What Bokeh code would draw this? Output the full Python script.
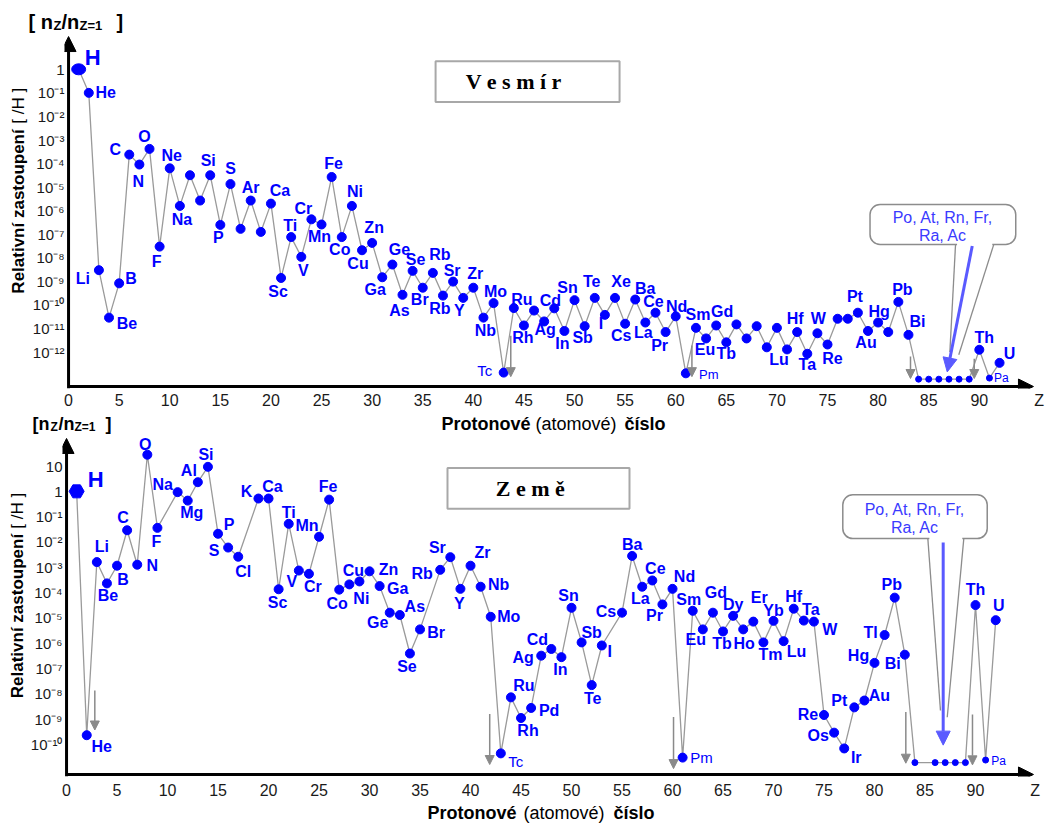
import math
from bokeh.plotting import figure
from bokeh.models import (ColumnDataSource, Range1d, FixedTicker,
                          CustomJSTickFormatter, Arrow, NormalHead, Label)
from bokeh.layouts import column, row
from bokeh.embed import file_html
from bokeh.resources import INLINE
from bokeh.core.properties import value, field
from bokeh.core.validation import silence
from bokeh.core.validation.warnings import MISSING_RENDERERS

silence(MISSING_RENDERERS, True)

# ------------------------------------------------------------------ data
vesmir_sym = ["H", "He", "Li", "Be", "B", "C", "N", "O", "F", "Ne",
              "Na", "Mg", "Al", "Si", "P", "S", "Cl", "Ar", "K", "Ca",
              "Sc", "Ti", "V", "Cr", "Mn", "Fe", "Co", "Ni", "Cu", "Zn",
              "Ga", "Ge", "As", "Se", "Br", "Kr", "Rb", "Sr", "Y", "Zr",
              "Nb", "Mo", "Tc", "Ru", "Rh", "Pd", "Ag", "Cd", "In", "Sn",
              "Sb", "Te", "I", "Xe", "Cs", "Ba", "La", "Ce", "Pr", "Nd",
              "Pm", "Sm", "Eu", "Gd", "Tb", "Dy", "Ho", "Er", "Tm", "Yb",
              "Lu", "Hf", "Ta", "W", "Re", "Os", "Ir", "Pt", "Au", "Hg",
              "Tl", "Pb", "Bi", "Po", "At", "Rn", "Fr", "Ra", "Ac", "Th",
              "Pa", "U"]
vesmir_z = list(range(1, 93))
vesmir_val = [1.0, 1.0e-1, 3.0e-9, 2.9e-11, 8.3e-10, 2.4e-4, 9.1e-5, 4.2e-4, 3.0e-8, 6.3e-5,
              1.6e-6, 3.2e-5, 2.7e-6, 3.2e-5, 2.5e-7, 1.35e-5, 1.7e-7, 2.7e-6, 1.26e-7, 2.0e-6,
              1.4e-9, 7.6e-8, 1.1e-8, 4.3e-7, 2.6e-7, 2.7e-5, 7.6e-8, 1.6e-6, 2.1e-8, 4.3e-8,
              1.5e-9, 5.2e-9, 2.7e-10, 2.8e-9, 5.4e-10, 2.3e-9, 2.5e-10, 9.8e-10, 2.0e-10, 5.4e-10,
              2.9e-11, 1.2e-10, 1.35e-13, 7.4e-11, 1.35e-11, 5.8e-11, 2.0e-11, 7.2e-11, 7.9e-12, 1.6e-10,
              1.26e-11, 2.0e-10, 3.8e-11, 2.0e-10, 1.6e-11, 1.7e-10, 1.8e-11, 4.7e-11, 7.1e-12, 3.3e-11,
              1.26e-13, 1.07e-11, 3.8e-12, 1.35e-11, 2.6e-12, 1.5e-11, 3.8e-12, 1.26e-11, 1.6e-12, 1.07e-11,
              1.3e-12, 7.1e-12, 8.5e-13, 6.3e-12, 2.1e-12, 2.6e-11, 2.6e-11, 4.7e-11, 7.9e-12, 1.8e-11,
              7.1e-12, 1.35e-10, 5.4e-12, 7.1e-14, 7.1e-14, 7.1e-14, 7.1e-14, 7.1e-14, 7.1e-14, 1.26e-12,
              7.9e-14, 3.5e-13]

zeme_sym = ["H", "He", "Li", "Be", "B", "C", "N", "O", "F",
            "Na", "Mg", "Al", "Si", "P", "S", "Cl",
            "K", "Ca", "Sc", "Ti", "V", "Cr", "Mn", "Fe", "Co", "Ni", "Cu", "Zn", "Ga", "Ge", "As", "Se", "Br",
            "Rb", "Sr", "Y", "Zr", "Nb", "Mo", "Tc", "Ru", "Rh", "Pd", "Ag", "Cd", "In", "Sn", "Sb", "Te", "I",
            "Cs", "Ba", "La", "Ce", "Pr", "Nd", "Pm", "Sm", "Eu", "Gd", "Tb", "Dy", "Ho", "Er", "Tm", "Yb",
            "Lu", "Hf", "Ta", "W", "Re", "Os", "Ir", "Pt", "Au", "Hg", "Tl", "Pb", "Bi", "Po",
            "Rn", "Fr", "Ra", "Ac", "Th", "Pa", "U"]
zeme_z = [1, 2, 3, 4, 5, 6, 7, 8, 9,
          11, 12, 13, 14, 15, 16, 17,
          19, 20, 21, 22, 23, 24, 25, 26, 27, 28, 29, 30, 31, 32, 33, 34, 35,
          37, 38, 39, 40, 41, 42, 43, 44, 45, 46, 47, 48, 49, 50, 51, 52, 53,
          55, 56, 57, 58, 59, 60, 61, 62, 63, 64, 65, 66, 67, 68, 69, 70,
          71, 72, 73, 74, 75, 76, 77, 78, 79, 80, 81, 82, 83, 84,
          86, 87, 88, 89, 90, 91, 92]
zeme_val = [1.0, 2.3e-10, 1.6e-3, 2.3e-4, 1.15e-3, 2.9e-2, 1.26e-3, 28.0, 3.6e-2,
            0.93, 0.43, 2.3, 9.3, 2.1e-2, 6.0e-3, 2.6e-3,
            0.52, 0.52, 1.35e-4, 5.2e-2, 7.4e-4, 5.5e-4, 1.6e-2, 0.47, 1.3e-4, 2.1e-4, 2.75e-4,
            6.9e-4, 1.8e-4, 1.6e-5, 1.3e-5, 3.9e-7, 3.5e-6,
            7.9e-4, 2.5e-3, 1.4e-4, 1.15e-3, 1.7e-4, 1.1e-5, 4.4e-11, 7.2e-9, 1.1e-9, 2.75e-9,
            3.2e-7, 5.9e-7, 2.8e-7, 2.5e-5, 1.07e-6, 2.2e-8, 8.1e-7,
            1.6e-5, 2.8e-3, 1.7e-4, 3.0e-4, 3.4e-5, 1.4e-4, 3.0e-11, 1.9e-5, 3.5e-6, 1.6e-5,
            2.9e-6, 1.2e-5, 3.5e-6, 7.1e-6, 1.07e-6, 7.6e-6,
            1.2e-6, 2.3e-5, 7.8e-6, 7.1e-6, 1.45e-9, 2.9e-10, 6.9e-11, 2.9e-9, 5.4e-9, 1.66e-7,
            2.1e-6, 6.3e-5, 3.5e-7, 1.9e-11,
            1.9e-11, 1.9e-11, 1.9e-11, 1.9e-11, 3.2e-5, 2.4e-11, 8.1e-6]

x_ticks = [0, 5, 10, 15, 20, 25, 30, 35, 40, 45, 50, 55, 60, 65, 70, 75, 80, 85, 90, 95.9]
x_axis_name = "Z"
vesmir_y_ticks = [1e-12, 1e-11, 1e-10, 1e-9, 1e-8, 1e-7, 1e-6, 1e-5, 1e-4, 1e-3, 1e-2, 1e-1, 1.0]
zeme_y_ticks = [1e-10, 1e-9, 1e-8, 1e-7, 1e-6, 1e-5, 1e-4, 1e-3, 1e-2, 1e-1, 1.0, 10.0]

# downward "upper limit" arrows (Z, from, to)
vesmir_arrow_z = [43.7, 61.6, 83.2, 89.5]
vesmir_arrow_from = [4.9e-12, 1.9e-12, 6.5e-13, 5.2e-13]
vesmir_arrow_to = [9.1e-14, 9.1e-14, 7.6e-14, 7.6e-14]
zeme_arrow_z = [2.8, 41.9, 60.1, 83.1, 89.7]
zeme_arrow_from = [1.35e-8, 1.6e-9, 1.2e-9, 1.9e-9, 1.5e-9]
zeme_arrow_to = [3.7e-10, 1.6e-11, 1.1e-11, 1.8e-11, 1.55e-11]

callout_lines = ["Po, At, Rn, Fr,", "Ra, Ac"]

# ------------------------------------------------------------------ label layout (pixels)
ves_off = {"He": (17, 0), "Li": (-16, 8), "Be": (18, 6), "B": (12, -5), "C": (-14, -5),
           "N": (-1, 17), "O": (-5, -12), "F": (-3, 15), "Ne": (2, -13), "Na": (2, 14),
           "Si": (-2, -15), "P": (-2, 13), "S": (0, -16), "Ar": (0, -13), "Ca": (9, -13),
           "Sc": (-3, 14), "Ti": (-1, -12), "V": (2, 14), "Cr": (-8, -11), "Mn": (-2, 12),
           "Fe": (2, -13), "Co": (-2, 12), "Ni": (3, -14), "Cu": (-4, 13), "Zn": (2, -15),
           "Ga": (-7, 12), "Ge": (7, -15), "As": (-3, 16), "Se": (3, -11), "Br": (-3, 12),
           "Kr": (7, -18), "Rb": (-3, 13), "Sr": (-1, -11), "Y": (-4, 13), "Zr": (2, -14),
           "Nb": (2, 13), "Mo": (2, -12), "Tc": (-19, -2), "Ru": (8, -9), "Rh": (-1, 12),
           "Ag": (1, 8), "Cd": (-4, -8), "In": (-2, 13), "Sn": (-7, -13), "Sb": (-2, 11),
           "Te": (-3, -16), "I": (-4, 9), "Xe": (6, -16), "Cs": (-4, 12), "Ba": (10, -11),
           "La": (-2, 10), "Ce": (-2, -11), "Pr": (-6, 13), "Nd": (1, -10), "Pm": (23, 1),
           "Sm": (2, -13), "Eu": (-1, 11), "Gd": (6, -14), "Tb": (0, 11), "Lu": (-8, 10),
           "Hf": (-2, -14), "Ta": (0, 11), "W": (1, -15), "Re": (5, 14), "Pt": (-3, -16),
           "Au": (-2, 12), "Hg": (1, -11), "Pb": (4, -12), "Bi": (9, -13), "Th": (5, -12),
           "Pa": (12, 0), "U": (10, -9)}
ves_unlabeled = {"Mg", "Al", "Cl", "K", "Pd", "Dy", "Ho", "Er", "Tm", "Yb", "Os", "Ir",
                 "Tl", "Po", "At", "Rn", "Fr", "Ra", "Ac"}
ves_rename = {"Kr": "Rb"}
ves_thin = {"Tc": "15px", "Pm": "13px", "Pa": "12px"}

zem_off = {"He": (15, 11), "Li": (5, -16), "Be": (1, 12), "B": (6, 14), "C": (-4, -13),
           "N": (15, 1), "O": (-2, -10), "F": (-1, 14), "Na": (-15, -8), "Mg": (4, 12),
           "Al": (-9, -12), "Si": (-2, -12), "P": (11, -9), "S": (-14, 3), "Cl": (5, 15),
           "K": (-12, -7), "Ca": (4, -12), "Sc": (-1, 13), "Ti": (0, -11), "V": (-7, 11),
           "Cr": (4, 13), "Mn": (-12, -11), "Fe": (-1, -13), "Co": (-2, 14), "Ni": (12, 14),
           "Cu": (-6, -11), "Zn": (19, -2), "Ga": (18, 2), "Ge": (-12, 10), "As": (15, -8),
           "Se": (-3, 13), "Br": (16, 3), "Rb": (-18, 4), "Sr": (-13, -10), "Y": (-1, 15),
           "Zr": (12, -13), "Nb": (18, -2), "Mo": (18, 0), "Tc": (15, 8), "Ru": (13, -12),
           "Rh": (7, 12), "Pd": (18, 3), "Ag": (-18, 2), "Cd": (-14, -9), "In": (-1, 12),
           "Sn": (-3, -12), "Sb": (10, -10), "Te": (1, 13), "I": (8, 6), "Cs": (-16, -1),
           "Ba": (0, -11), "La": (-2, 12), "Ce": (3, -12), "Pr": (-8, 11), "Nd": (12, -12),
           "Pm": (19, 0), "Sm": (-4, -11), "Eu": (-7, 10), "Gd": (3, -20), "Tb": (-1, 12),
           "Dy": (0, -11), "Ho": (1, 14), "Er": (6, -24), "Tm": (7, 12), "Yb": (0, -10),
           "Lu": (13, 10), "Hf": (0, -12), "Ta": (7, -11), "W": (16, 8), "Re": (-16, 0),
           "Os": (-16, 3), "Ir": (12, 9), "Pt": (-15, -7), "Au": (15, -5), "Hg": (-16, -7),
           "Tl": (-14, -3), "Pb": (-3, -13), "Bi": (-12, 9), "Th": (0, -16), "Pa": (13, 1),
           "U": (3, -15)}
zem_unlabeled = {"Po", "Rn", "Fr", "Ra", "Ac"}
zem_thin = {"Tc": "15px", "Pm": "15px", "Pa": "12px"}

small_dots = {"Po", "At", "Rn", "Fr", "Ra", "Ac", "Pa"}

BLUE = "#0000ff"
LBLUE = "#5a5aff"
GRAY = "#9a9a9a"
AGRAY = "#8a8a8a"
FONT = "Liberation Sans"
SERIF = "Liberation Serif"
PAGE_W = 1045

TICK_JS = """
const e = Math.round(Math.log10(tick));
if (e === 0) return "1";
if (e === 1) return "10";
const sup = {"-": "\\u207b", "0": "\\u2070", "1": "\\u00b9", "2": "\\u00b2", "3": "\\u00b3",
             "4": "\\u2074", "5": "\\u2075", "6": "\\u2076", "7": "\\u2077", "8": "\\u2078", "9": "\\u2079"};
let s = "";
for (const c of String(e)) s += sup[c];
return "10" + s;
"""
XTICK_JS = "return tick > 92 ? NAME : String(tick);".replace("NAME", '"' + x_axis_name + '"')


def make_fig(width, height, x_end, ylog_lo, ylog_hi, border_left, border_bottom, standoff, yticks):
    p = figure(width=width, height=height, x_range=Range1d(-0.4, x_end),
               y_range=Range1d(10 ** ylog_lo, 10 ** ylog_hi), y_axis_type="log",
               output_backend="svg", toolbar_location=None,
               min_border_left=border_left, min_border_right=0, min_border_top=0,
               min_border_bottom=border_bottom)
    p.grid.visible = False
    p.outline_line_color = None
    p.background_fill_color = "white"
    p.border_fill_color = "white"
    for ax in (p.xaxis[0], p.yaxis[0]):
        ax.axis_line_color = None
        ax.major_tick_line_color = None
        ax.minor_tick_line_color = None
        ax.major_tick_in = 0
        ax.major_tick_out = 0
        ax.minor_tick_in = 0
        ax.minor_tick_out = 0
        ax.major_label_text_font = FONT
        ax.major_label_text_color = "#1a1a1a"
    p.xaxis.major_label_text_font_size = "16px"
    p.yaxis.major_label_text_font_size = "15px"
    p.xaxis.ticker = FixedTicker(ticks=x_ticks)
    p.xaxis.formatter = CustomJSTickFormatter(code=XTICK_JS)
    p.xaxis.major_label_standoff = standoff
    p.yaxis.ticker = FixedTicker(ticks=yticks)
    p.yaxis.major_label_standoff = 0
    p.yaxis.formatter = CustomJSTickFormatter(code=TICK_JS)
    return p


def make_strip(width, height):
    s = figure(width=width, height=height, x_range=Range1d(0, width), y_range=Range1d(height, 0),
               x_axis_location=None, y_axis_location=None, output_backend="svg",
               toolbar_location=None, min_border=0)
    s.grid.visible = False
    s.outline_line_color = None
    s.background_fill_color = "white"
    s.border_fill_color = "white"
    return s


def draw_axes(p, ylo, yaxis_at, ytip, xtip):
    p.add_layout(Arrow(end=NormalHead(size=15, fill_color="black", line_color="black", line_width=1),
                       x_start=0, y_start=ylo, x_end=0, y_end=ytip,
                       line_color="black", line_width=3))
    p.add_layout(Arrow(end=NormalHead(size=15, fill_color="black", line_color="black", line_width=1),
                       x_start=0, y_start=yaxis_at, x_end=xtip, y_end=yaxis_at,
                       line_color="black", line_width=3))


def draw_series(p, z, sym, val, offs, unlabeled, rename, thin, h_marker, h_off):
    p.line(z, val, line_color=GRAY, line_width=1.3)
    idx = [i for i, s in enumerate(sym) if s != "H"]
    sizes = [6 if sym[i] in small_dots else 9 for i in idx]
    p.scatter([z[i] for i in idx], [val[i] for i in idx], size=sizes,
              fill_color=BLUE, line_color=BLUE)
    ih = sym.index("H")
    if h_marker == "ellipse":
        p.ellipse(x=[z[ih]], y=[val[ih]], width=14, height=11, width_units="screen",
                  height_units="screen", fill_color=BLUE, line_color=BLUE)
    else:
        p.scatter(x=[z[ih]], y=[val[ih]], marker="hex", size=15, fill_color=BLUE, line_color=BLUE)
    p.text(x=[z[ih]], y=[val[ih]], text=["H"], x_offset=h_off[0], y_offset=h_off[1],
           text_font=value(FONT), text_font_style="bold", text_font_size="22px",
           text_color=BLUE, text_align="center", text_baseline="middle")

    bold = dict(x=[], y=[], t=[], dx=[], dy=[])
    tn = dict(x=[], y=[], t=[], dx=[], dy=[], fs=[])
    for zi, s, v in zip(z, sym, val):
        if s == "H" or s in unlabeled:
            continue
        dx, dy = offs[s]
        g = tn if s in thin else bold
        g["x"].append(zi)
        g["y"].append(v)
        g["t"].append(rename.get(s, s))
        g["dx"].append(dx)
        g["dy"].append(dy)
        if s in thin:
            g["fs"].append(thin[s])
    p.text(x="x", y="y", text="t", x_offset="dx", y_offset="dy", source=ColumnDataSource(bold),
           text_font=value(FONT), text_font_style="bold", text_font_size="16px",
           text_color=BLUE, text_align="center", text_baseline="middle")
    p.text(x="x", y="y", text="t", x_offset="dx", y_offset="dy", source=ColumnDataSource(tn),
           text_font=value(FONT), text_font_style="normal", text_font_size=field("fs"),
           text_color=BLUE, text_align="center", text_baseline="middle")


def draw_limit_arrows(p, xs, y0s, y1s):
    for x, a, b in zip(xs, y0s, y1s):
        p.add_layout(Arrow(end=NormalHead(size=9, fill_color=AGRAY, line_color=AGRAY, line_width=1),
                           x_start=x, y_start=a, x_end=x, y_end=b,
                           line_color=AGRAY, line_width=1.5))


def draw_callout(p, box, tail_l, tail_r, text_x, text_ys, arrow):
    left, right, top, bottom = box
    p.quad(left=[left], right=[right], top=[top], bottom=[bottom], border_radius=10,
           fill_color="white", line_color="#8c8c8c", line_width=1.5)
    p.segment(x0=[tail_l[0][0] + 0.15], y0=[bottom], x1=[tail_r[0][0] - 0.15], y1=[bottom],
              line_color="white", line_width=3)
    for t in (tail_l, tail_r):
        p.line([t[0][0], t[1][0]], [t[0][1], t[1][1]], line_color="#8c8c8c", line_width=1.3)
    for txt, ty in zip(callout_lines, text_ys):
        p.add_layout(Label(x=text_x, y=ty, text=txt, text_font=FONT, text_font_size="16px",
                           text_color="#3a3aff", text_align="center", text_baseline="middle"))
    (ax0, ay0), (ax1, ay1) = arrow
    p.add_layout(Arrow(end=NormalHead(size=14, fill_color=LBLUE, line_color=LBLUE, line_width=1),
                       x_start=ax0, y_start=ay0, x_end=ax1, y_end=ay1,
                       line_color=LBLUE, line_width=3))


def draw_title_box(p, box, text, tx, ty):
    left, right, top, bottom = box
    p.quad(left=[left], right=[right], top=[top], bottom=[bottom],
           fill_color="white", line_color="#a8a8a8", line_width=2)
    p.add_layout(Label(x=tx, y=ty, text=text, text_font=SERIF, text_font_style="bold",
                       text_font_size="22px", text_color="black",
                       text_align="center", text_baseline="middle"))


def draw_unit_label(s, x, y, compact):
    if not compact:
        parts = [("[ n", 0, 0, "20px"), ("Z", 25, -4, "13px"), ("/n", 33, 0, "20px"),
                 ("Z=1", 51, -4, "13px"), ("]", 88, 0, "20px")]
    else:
        parts = [("[n", 0, 0, "18px"), ("Z", 18, -3, "12px"), ("/n", 26, 0, "18px"),
                 ("Z=1", 42, -3, "12px"), ("]", 73, 0, "18px")]
    for txt, dx, dy, fs in parts:
        s.add_layout(Label(x=x, y=y, x_offset=dx, y_offset=dy, text=txt, text_font=FONT,
                           text_font_style="bold", text_font_size=fs, text_color="black",
                           text_align="left", text_baseline="middle"))


def draw_ytitle(s, x, y_bold, y_norm):
    s.add_layout(Label(x=x, y=y_bold, text="Relativní  zastoupení", angle=math.pi / 2,
                       text_font=FONT, text_font_style="bold", text_font_size="17px",
                       text_color="black", text_align="left", text_baseline="middle"))
    s.add_layout(Label(x=x, y=y_norm, text="[ /H ]", angle=math.pi / 2,
                       text_font=FONT, text_font_style="normal", text_font_size="17px",
                       text_color="black", text_align="left", text_baseline="middle"))


def draw_xtitle(s, xs, y):
    for txt, x, st in zip(["Protonové", "(atomové)", "číslo"], xs, ["bold", "normal", "bold"]):
        s.add_layout(Label(x=x, y=y, text=txt, text_font=FONT, text_font_style=st,
                           text_font_size="18px", text_color="black",
                           text_align="left", text_baseline="middle"))


# ------------------------------------------------------------------ top panel (Vesmír)
L1_W = 29
T_LO, T_HI = -13.544, 1.519
p1 = make_fig(PAGE_W - L1_W, 378, 96.54, T_LO, T_HI, 35, 21, 3, vesmir_y_ticks)
draw_axes(p1, 10 ** T_LO, 10 ** -13.46, 10 ** 1.39, 95.35)
draw_title_box(p1, (36.27, 54.45, 10 ** 0.338, 10 ** -1.392), "V  e  s  m  í  r", 45.36, 10 ** -0.506)
draw_limit_arrows(p1, vesmir_arrow_z, vesmir_arrow_from, vesmir_arrow_to)
draw_series(p1, vesmir_z, vesmir_sym, vesmir_val, ves_off, ves_unlabeled, ves_rename, ves_thin,
            "ellipse", (14, -12))
draw_callout(p1, (79.2, 93.6, 10 ** -5.74, 10 ** -7.43),
             ((87.65, 10 ** -7.43), (87.09, 10 ** -12.0)),
             ((91.43, 10 ** -7.43), (87.97, 10 ** -12.11)),
             86.4, [10 ** -6.29, 10 ** -7.05],
             ((89.30, 10 ** -7.50), (86.83, 10 ** -12.84)))

# ------------------------------------------------------------------ bottom panel (Země)
L2_W = 27
B_LO, B_HI = -11.27, 2.207
p2 = make_fig(PAGE_W - L2_W, 366, 96.93, B_LO, B_HI, 35, 21, 5, zeme_y_ticks)
draw_axes(p2, 10 ** B_LO, 10 ** -11.19, 10 ** 2.09, 95.74)
draw_title_box(p2, (37.72, 55.74, 10 ** 0.918, 10 ** -0.684), "Z  e  m  ě", 46.73, 10 ** 0.098)
draw_limit_arrows(p2, zeme_arrow_z, zeme_arrow_from, zeme_arrow_to)
draw_series(p2, zeme_z, zeme_sym, zeme_val, zem_off, zem_unlabeled, {}, zem_thin,
            "hex", (19, -12))
draw_callout(p2, (76.86, 91.16, 10 ** -0.137, 10 ** -1.867),
             ((85.28, 10 ** -1.867), (86.53, 10 ** -8.66)),
             ((88.84, 10 ** -1.867), (87.2, 10 ** -8.93)),
             84.0, [10 ** -0.72, 10 ** -1.43],
             ((86.8, 10 ** -2.02), (86.8, 10 ** -10.03)))

# ------------------------------------------------------------------ text strips (titles outside the frames)
s0 = make_strip(PAGE_W, 33)
draw_unit_label(s0, 28, 21, False)

l1 = make_strip(L1_W, 378)
draw_ytitle(l1, 18, 277, 96)

s1 = make_strip(PAGE_W, 24)
draw_xtitle(s1, [441, 535, 624], 12)
draw_unit_label(s1, 32, 12, True)

l2 = make_strip(L2_W, 366)
draw_ytitle(l2, 16.5, 282, 100)

s2 = make_strip(PAGE_W, 22)
draw_xtitle(s2, [427, 523, 613], 11)

layout = column(s0, row(l1, p1, spacing=0), s1, row(l2, p2, spacing=0), s2, spacing=0)
open("out.html", "w", encoding="utf-8").write(file_html(layout, INLINE, title="Vesmír a Země"))
